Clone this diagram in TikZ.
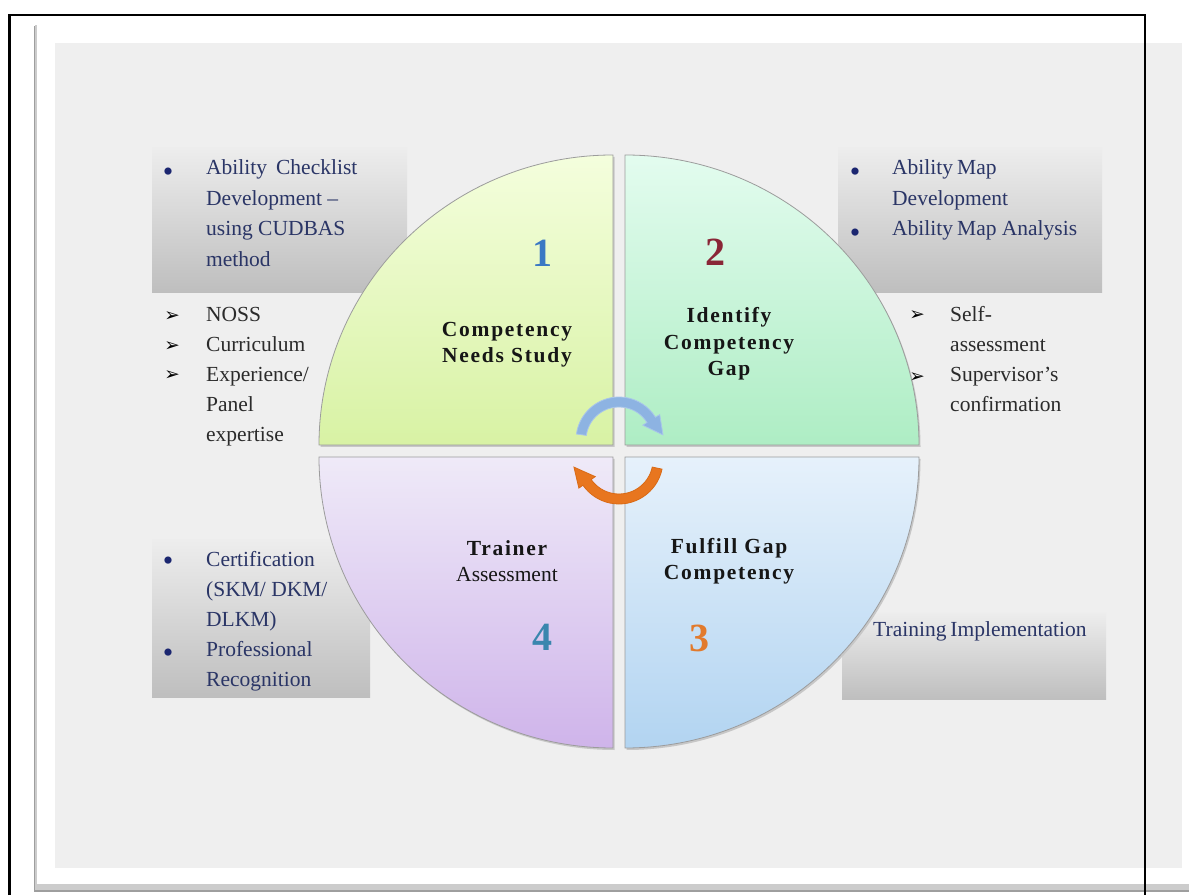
\documentclass[tikz,border=0pt]{standalone}
\usepackage{fontspec}
\setmainfont{Liberation Serif}
\newfontfamily\symfont{DejaVu Sans}
\usetikzlibrary{calc}
\definecolor{cardbg}{HTML}{EFEFEF}
\definecolor{navy}{HTML}{2A3566}
\definecolor{dotc}{HTML}{1B2670}
\definecolor{ink}{HTML}{2B2B2B}
\definecolor{titleink}{HTML}{161616}
\definecolor{boxtop}{HTML}{EDEDED}
\definecolor{boxbot}{HTML}{BEBEBE}
\definecolor{quadline}{HTML}{9C9C9C}
\definecolor{tlTop}{HTML}{F4FEDD}
\definecolor{tlBot}{HTML}{D8F2A4}
\definecolor{trTop}{HTML}{E3FCEF}
\definecolor{trBot}{HTML}{AEEDC4}
\definecolor{blTop}{HTML}{EFEAF8}
\definecolor{blBot}{HTML}{CFB4EA}
\definecolor{brTop}{HTML}{E6F1FB}
\definecolor{brBot}{HTML}{B2D4F1}
\definecolor{arcblue}{HTML}{8DB3E2}
\definecolor{arcblueline}{HTML}{A9C6EA}
\definecolor{arcorange}{HTML}{E8761F}
\definecolor{arcorangeline}{HTML}{D96A16}
\definecolor{numone}{HTML}{3A78C4}
\definecolor{numtwo}{HTML}{8A2637}
\definecolor{numthree}{HTML}{E27A2C}
\definecolor{numfour}{HTML}{3A86AE}
\begin{document}
\begin{tikzpicture}[x=1pt,y=1pt,
  graybox/.style={top color=boxtop, bottom color=boxbot, draw=none},
  quad/.style={draw=quadline, line width=0.8pt},
  quadshadow/.style={fill=black!22, draw=none},
  boxtext/.style={font=\fontsize{21.5}{30.5}\selectfont, text=navy, inner sep=0pt, align=left, anchor=base west},
  listtext/.style={font=\fontsize{21.5}{29.8}\selectfont, text=ink, inner sep=0pt, align=left, anchor=base west},
  dotbullet/.style={font=\fontsize{30}{30}\selectfont, text=dotc, inner sep=0pt, anchor=base},
  arrowbullet/.style={font=\symfont\fontsize{18.5}{18.5}\selectfont, text=black, inner sep=0pt, anchor=base},
  quadtitle/.style={font=\bfseries\fontsize{21.5}{26.5}\selectfont\addfontfeatures{LetterSpace=8}, text=titleink, inner sep=0pt, align=center, anchor=base},
  numlabel/.style={font=\bfseries\fontsize{40}{40}\selectfont, inner sep=0pt, anchor=center}
]
\useasboundingbox (0,0) rectangle (1189,895);
% ---------- background and card ----------
\fill[white] (0,0) rectangle (1189,895);
\fill[black!38] (34,3) rectangle (1189,869);
\fill[black!20] (35,5) rectangle (1189,870);
\fill[white] (37,11) rectangle (1189,872);
\fill[cardbg] (55,27) rectangle (1182,852);

% ---------- gray text boxes ----------
\path[graybox] (152,602) rectangle (407,747);
\path[graybox] (838,602) rectangle (1102,747);
\path[graybox] (152,197) rectangle (370,355);
\path[graybox] (842,195) rectangle (1106,282);

% ---------- quadrants ----------
\begin{scope}[shift={(1.5,-2)}]
\path[quadshadow] (613,450) -- (319,450) arc[start angle=180, end angle=90, x radius=294, y radius=290] -- cycle;
\path[quadshadow] (625,450) -- (625,740) arc[start angle=90, end angle=0, x radius=294, y radius=290] -- cycle;
\path[quadshadow] (613,438) -- (319,438) arc[start angle=180, end angle=270, x radius=294, y radius=291] -- cycle;
\path[quadshadow] (625,438) -- (919,438) arc[start angle=0, end angle=-90, x radius=294, y radius=291] -- cycle;
\end{scope}
\path[quad, top color=tlTop, bottom color=tlBot] (613,450) -- (319,450) arc[start angle=180, end angle=90, x radius=294, y radius=290] -- cycle;
\path[quad, top color=trTop, bottom color=trBot] (625,450) -- (625,740) arc[start angle=90, end angle=0, x radius=294, y radius=290] -- cycle;
\path[quad, top color=blTop, bottom color=blBot] (613,438) -- (319,438) arc[start angle=180, end angle=270, x radius=294, y radius=291] -- cycle;
\path[quad, top color=brTop, bottom color=brBot] (625,438) -- (919,438) arc[start angle=0, end angle=-90, x radius=294, y radius=291] -- cycle;

% ---------- cycle arrows ----------
\coordinate (cb) at (619,455);
\coordinate (co) at (619,435);
\path[fill=arcblue, draw=arcblueline, line width=0.8pt]
  ($(cb)+(172:43)$) arc[start angle=172, end angle=32, radius=43]
  -- ($(cb)+(32:48)$) -- ($(cb)+(32:40)+(-58:19)$) -- ($(cb)+(32:28)$)
  -- ($(cb)+(32:33)$) arc[start angle=32, end angle=172, radius=33] -- cycle;
\path[fill=arcorange, draw=arcorangeline, line width=0.8pt]
  ($(co)+(-12:44)$) arc[start angle=-12, end angle=-145, radius=44]
  -- ($(co)+(-145:49)$) -- ($(co)+(-145:41)+(125:20)$) -- ($(co)+(-145:29)$)
  -- ($(co)+(-145:34)$) arc[start angle=-145, end angle=-12, radius=34] -- cycle;

% ---------- numbers ----------
\node[numlabel, text=numone]   (n1) at (542,642) {1};
\node[numlabel, text=numtwo]   (n2) at (715,643) {2};
\node[numlabel, text=numthree] (n3) at (699,257) {3};
\node[numlabel, text=numfour]  (n4) at (542,258) {4};

% ---------- quadrant titles (anchored at the last line's baseline) ----------
\node[quadtitle] (t1) at (507,532) {Competency\\Needs Study};
\node[quadtitle] (t2) at (729,519) {Identify\\Competency\\Gap};
\node[quadtitle] (t3) at (729,315) {Fulfill Gap\\Competency};
\node[quadtitle] (t4) at (507,313.3) {Trainer\\\mdseries\addfontfeatures{LetterSpace=0}Assessment};

% ---------- top-left texts ----------
\node[dotbullet] (d1) at (168,713.4) {•};
\node[boxtext] (b1) at (206,628.5) {Ability\hspace{9pt}Checklist\\Development –\\using CUDBAS\\method};
\node[arrowbullet] (a1) at (172,573.5) {➢};
\node[arrowbullet] (a2) at (172,543.9) {➢};
\node[arrowbullet] (a3) at (172,514.3) {➢};
\node[listtext] (l1) at (206,453.8) {NOSS\\Curriculum\\Experience/\\Panel\\expertise};

% ---------- top-right texts ----------
\node[dotbullet] (d2) at (855,713.4) {•};
\node[dotbullet] (d3) at (855,652.4) {•};
\node[boxtext] (b2) at (892,689.5) {Ability\hspace{4pt}Map\\Development};
\node[boxtext] (b3) at (892,659) {Ability\hspace{4pt}Map Analysis};
\node[arrowbullet] (a4) at (917,574.5) {➢};
\node[arrowbullet] (a5) at (917,512.5) {➢};
\node[listtext, font=\fontsize{21.5}{30}\selectfont] (l2) at (950,483) {Self-\\assessment\\Supervisor’s\\confirmation};

% ---------- bottom-left texts ----------
\node[dotbullet] (d4) at (168,324.4) {•};
\node[dotbullet] (d5) at (168,232.4) {•};
\node[boxtext, font=\fontsize{21.5}{30}\selectfont] (b4) at (206,208.3) {Certification\\(SKM/ DKM/\\DLKM)\\Professional\\Recognition};

% ---------- bottom-right text ----------
\node[boxtext] (b5) at (873,258.3) {Training\hspace{4pt}Implementation};

% ---------- outer frame ----------
\draw[line width=2.4pt] (9.5,0) -- (9.5,880) -- (1145,880) -- (1145,0);
\end{tikzpicture}
\end{document}
